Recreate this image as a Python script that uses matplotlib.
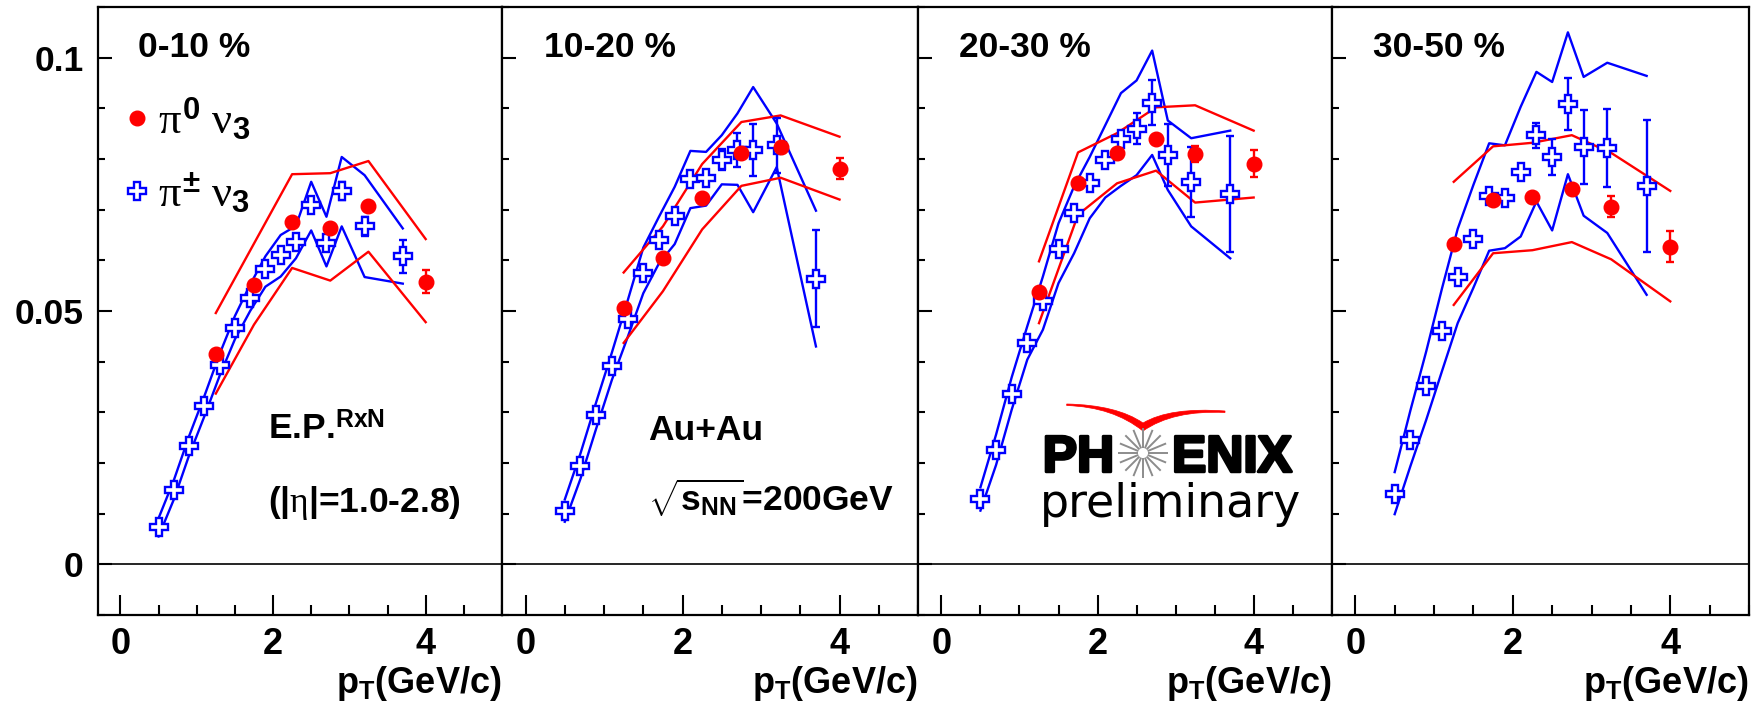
import numpy as np
import matplotlib
matplotlib.use("Agg")
import matplotlib.pyplot as plt
import matplotlib.patheffects as pe
from matplotlib.lines import Line2D
from matplotlib.path import Path
from matplotlib.patches import PathPatch
from matplotlib.ticker import MultipleLocator, FuncFormatter

plt.rcParams['font.family'] = 'Liberation Sans'
plt.rcParams['font.weight'] = 'bold'
plt.rcParams['axes.labelweight'] = 'bold'
plt.rcParams['mathtext.fontset'] = 'custom'
plt.rcParams['mathtext.rm'] = 'Liberation Serif:weight=normal'
plt.rcParams['mathtext.it'] = 'Liberation Serif:weight=normal'
plt.rcParams['mathtext.bf'] = 'Liberation Sans:bold'
plt.rcParams['mathtext.sf'] = 'Liberation Sans:bold'

centralities = ['0-10 %', '10-20 %', '20-30 %', '30-50 %']

# pi0 v3 (red)
pi0_pt = [1.25, 1.75, 2.25, 2.75, 3.25, 4.0]
pi0_v3 = [
    [0.0415, 0.0552, 0.0676, 0.0664, 0.0707, 0.0558],
    [0.0506, 0.0604, 0.0724, 0.0811, 0.0824, 0.0781],
    [0.0537, 0.0752, 0.0811, 0.0840, 0.0810, 0.0791],
    [0.0632, 0.0720, 0.0725, 0.0741, 0.0706, 0.0627],
]
pi0_err = [
    [0.0003, 0.0003, 0.0004, 0.0005, 0.0006, 0.0022],
    [0.0003, 0.0004, 0.0005, 0.0006, 0.0008, 0.0021],
    [0.0003, 0.0004, 0.0005, 0.0006, 0.0016, 0.0026],
    [0.0004, 0.0005, 0.0006, 0.0008, 0.0021, 0.0030],
]
pi0_sys_hi = [
    [0.0496, 0.0633, 0.0770, 0.0772, 0.0796, 0.0642],
    [0.0576, 0.0667, 0.0790, 0.0873, 0.0886, 0.0844],
    [0.0598, 0.0813, 0.0851, 0.0902, 0.0906, 0.0856],
    [0.0755, 0.0825, 0.0832, 0.0847, 0.0812, 0.0737],
]
pi0_sys_lo = [
    [0.0337, 0.0473, 0.0585, 0.0560, 0.0617, 0.0478],
    [0.0437, 0.0539, 0.0661, 0.0747, 0.0763, 0.0720],
    [0.0476, 0.0690, 0.0752, 0.0777, 0.0714, 0.0724],
    [0.0512, 0.0614, 0.0620, 0.0636, 0.0602, 0.0519],
]

# charged pion v3 (blue)
pich_pt = [0.5, 0.7, 0.9, 1.1, 1.3, 1.5, 1.7, 1.9, 2.1, 2.3, 2.5, 2.7, 2.9, 3.2, 3.7]
pich_v3 = [
    [0.0073, 0.0147, 0.0234, 0.0312, 0.0394, 0.0467, 0.0526, 0.0583, 0.0611, 0.0637, 0.0709, 0.0634, 0.0737, 0.0667, 0.0608],
    [0.0106, 0.0194, 0.0294, 0.0391, 0.0484, 0.0575, 0.0640, 0.0688, 0.0760, 0.0762, 0.0799, 0.0818, 0.0818, 0.0827, 0.0564],
    [0.0129, 0.0226, 0.0337, 0.0437, 0.0520, 0.0622, 0.0693, 0.0752, 0.0798, 0.0840, 0.0860, 0.0911, 0.0808, 0.0755, 0.0731],
    [0.0138, 0.0245, 0.0352, 0.0460, 0.0568, 0.0642, 0.0726, 0.0724, 0.0775, 0.0847, 0.0804, 0.0909, 0.0824, 0.0821, 0.0747],
]
pich_err = [
    [0.0003, 0.0003, 0.0003, 0.0003, 0.0004, 0.0004, 0.0004, 0.0005, 0.0005, 0.0006, 0.0008, 0.0010, 0.0017, 0.0018, 0.0033],
    [0.0003, 0.0003, 0.0003, 0.0004, 0.0004, 0.0005, 0.0006, 0.0007, 0.0010, 0.0012, 0.0020, 0.0034, 0.0051, 0.0054, 0.0096],
    [0.0003, 0.0003, 0.0003, 0.0004, 0.0004, 0.0005, 0.0006, 0.0007, 0.0012, 0.0016, 0.0030, 0.0044, 0.0062, 0.0069, 0.0114],
    [0.0003, 0.0003, 0.0004, 0.0004, 0.0005, 0.0006, 0.0007, 0.0008, 0.0015, 0.0025, 0.0035, 0.0051, 0.0073, 0.0077, 0.0130],
]
pich_sys_hi = [
    [0.0091, 0.0166, 0.0253, 0.0332, 0.0415, 0.0490, 0.0552, 0.0608, 0.0650, 0.0668, 0.0755, 0.0686, 0.0804, 0.0768, 0.0663],
    [0.0128, 0.0219, 0.0320, 0.0418, 0.0520, 0.0625, 0.0686, 0.0745, 0.0816, 0.0814, 0.0847, 0.0890, 0.0942, 0.0870, 0.0698],
    [0.0152, 0.0256, 0.0369, 0.0470, 0.0568, 0.0673, 0.0746, 0.0804, 0.0867, 0.0930, 0.0955, 0.1014, 0.0876, 0.0841, 0.0856],
    [0.0182, 0.0304, 0.0420, 0.0544, 0.0662, 0.0749, 0.0831, 0.0827, 0.0903, 0.0972, 0.0952, 0.1050, 0.0962, 0.0990, 0.0964],
]
pich_sys_lo = [
    [0.0055, 0.0128, 0.0215, 0.0292, 0.0372, 0.0444, 0.0500, 0.0548, 0.0568, 0.0604, 0.0659, 0.0588, 0.0667, 0.0567, 0.0554],
    [0.0084, 0.0169, 0.0268, 0.0364, 0.0448, 0.0535, 0.0594, 0.0632, 0.0703, 0.0708, 0.0750, 0.0749, 0.0695, 0.0784, 0.0430],
    [0.0106, 0.0196, 0.0305, 0.0404, 0.0463, 0.0555, 0.0614, 0.0683, 0.0724, 0.0747, 0.0768, 0.0808, 0.0739, 0.0667, 0.0604],
    [0.0099, 0.0194, 0.0285, 0.0381, 0.0476, 0.0546, 0.0619, 0.0624, 0.0647, 0.0716, 0.0659, 0.0770, 0.0688, 0.0654, 0.0532],
]

W, H = 1762, 709
edges = [97.5, 502, 918, 1331.7, 1749]
top, bottom = 7, 615

fig = plt.figure(figsize=(W / 100, H / 100), dpi=100)
fmt = FuncFormatter(lambda v, _: f'{v:g}' if abs(v) > 1e-9 else '0')

axes = []
for i in range(4):
    ax = fig.add_axes([edges[i] / W, 1 - bottom / H,
                       (edges[i + 1] - edges[i]) / W, (bottom - top) / H])
    ax.set_xlim(-0.3, 5.0)
    ax.set_ylim(-0.01, 0.11)
    ax.axhline(0, color='black', lw=1.2, zorder=1)

    ax.plot(pich_pt, pich_sys_hi[i], color='blue', lw=1.7, zorder=2)
    ax.plot(pich_pt, pich_sys_lo[i], color='blue', lw=1.7, zorder=2)
    ax.plot(pi0_pt, pi0_sys_hi[i], color='red', lw=1.7, zorder=2)
    ax.plot(pi0_pt, pi0_sys_lo[i], color='red', lw=1.7, zorder=2)

    ax.errorbar(pich_pt, pich_v3[i], yerr=pich_err[i], fmt='P', ms=12.5,
                mfc='white', mec='blue', mew=1.7, ecolor='blue',
                elinewidth=1.7, capsize=3, capthick=1.7, zorder=3)
    ax.errorbar(pi0_pt, pi0_v3[i], yerr=pi0_err[i], fmt='o', ms=10.5,
                color='red', mec='red', elinewidth=1.7, capsize=3,
                capthick=1.7, zorder=4)

    ax.xaxis.set_major_locator(MultipleLocator(2))
    ax.xaxis.set_minor_locator(MultipleLocator(0.5))
    ax.yaxis.set_major_locator(MultipleLocator(0.05))
    ax.yaxis.set_minor_locator(MultipleLocator(0.01))
    ax.xaxis.set_major_formatter(fmt)
    ax.yaxis.set_major_formatter(fmt)
    ax.tick_params(axis='x', which='major', direction='in', length=14.5,
                   width=1.5, labelsize=26, pad=9, top=False)
    ax.tick_params(axis='x', which='minor', direction='in', length=7.2,
                   width=1.5, top=False)
    ax.tick_params(axis='y', which='major', direction='in', length=10,
                   width=1.5, labelsize=25.5, pad=10, right=False,
                   labelleft=(i == 0))
    ax.tick_params(axis='y', which='minor', direction='in', length=5,
                   width=1.5, right=False)
    for sp in ax.spines.values():
        sp.set_linewidth(1.6)

    ax.set_xlabel(r'$\mathbf{p_{T}}$(GeV/c)', fontsize=26,
                  fontweight='bold', ha='right', va='baseline')
    ax.xaxis.set_label_coords(1.0, -0.128)
    ax.text(0.10, 0.918, centralities[i], fontsize=25.5,
            transform=ax.transAxes, va='baseline')
    axes.append(ax)

ax = axes[0]
handles = [Line2D([], [], ls='none', marker='o', color='red', ms=10.5),
           Line2D([], [], ls='none', marker='P', mfc='white', mec='blue',
                  mew=1.7, ms=12.5)]
ax.legend(handles, [r'$\pi^{\mathbf{0}}\ \nu_{\mathbf{3}}$',
                    r'$\pi^{\mathbf{\pm}}\ \nu_{\mathbf{3}}$'],
          loc='upper left', bbox_to_anchor=(0.068, 0.853), frameon=False,
          fontsize=32, handlelength=0.55, handletextpad=0.2,
          labelspacing=0.65, borderpad=0, borderaxespad=0)
ax.text(0.422, 0.288, r'E.P.$^{\mathbf{RxN}}$', fontsize=25.5,
        transform=ax.transAxes, va='baseline')
ax.text(0.422, 0.170, r'(|$\eta$|=1.0-2.8)', fontsize=25.5,
        transform=ax.transAxes, va='baseline')

ax = axes[1]
ax.text(0.352, 0.288, 'Au+Au', fontsize=25.5, transform=ax.transAxes,
        va='baseline')
ax.text(0.352, 0.170, r'$\sqrt{\mathbf{s_{NN}}}$=200GeV', fontsize=25.5,
        transform=ax.transAxes, va='baseline')

# PHENIX preliminary logo (pixel-like coordinates, y pointing down)
lg = fig.add_axes([1035 / W, 1 - 535 / H, 275 / W, 140 / H])
lg.set_xlim(0, 275)
lg.set_ylim(140, 0)
lg.axis('off')

swoosh = Path(
    [(31.7, 9.0), (82, 10), (108, 28), (135, 12), (190, 16),
     (190, 17.5), (138, 15), (108, 36), (78, 12), (31.7, 10.5), (31.7, 9.0)],
    [Path.MOVETO, Path.CURVE3, Path.CURVE3, Path.CURVE3, Path.CURVE3,
     Path.LINETO, Path.CURVE3, Path.CURVE3, Path.CURVE3, Path.CURVE3,
     Path.CLOSEPOLY])
lg.add_patch(PathPatch(swoosh, facecolor='red', edgecolor='red', lw=0.5))

cx, cy = 108, 58
for a in np.linspace(0, 2 * np.pi, 16, endpoint=False):
    lg.plot([cx + 5 * np.cos(a), cx + 25 * np.cos(a)],
            [cy + 5 * np.sin(a), cy + 25 * np.sin(a)],
            color='#8c8c8c', lw=1.4, solid_capstyle='butt')

heavy = [pe.withStroke(linewidth=2.2, foreground='black')]
lg.text(79, 76.7, 'PH', fontsize=37, ha='right', va='baseline',
        path_effects=heavy)
lg.text(137, 76.7, 'ENIX', fontsize=37, ha='left', va='baseline',
        path_effects=heavy)
lg.text(5, 121.7, 'preliminary', fontsize=33, family='DejaVu Sans',
        fontweight='normal', ha='left', va='baseline')

fig.savefig('out.png', dpi=100)
